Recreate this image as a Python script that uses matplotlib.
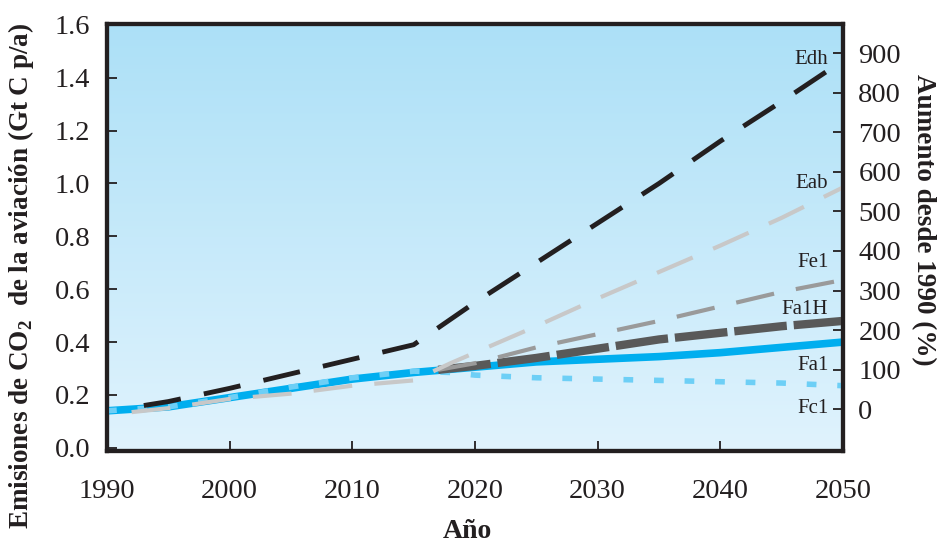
import numpy as np
import matplotlib
matplotlib.use("Agg")
import matplotlib.pyplot as plt
from matplotlib.colors import LinearSegmentedColormap

plt.rcParams['font.family'] = ['Liberation Serif', 'DejaVu Serif']
plt.rcParams['mathtext.fontset'] = 'custom'
plt.rcParams['mathtext.rm'] = 'Liberation Serif'
plt.rcParams['mathtext.bf'] = 'Liberation Serif:bold'
plt.rcParams['lines.scale_dashes'] = False

# data (Gt C per year)
years_edh = [1993, 1995, 2000, 2005, 2010, 2015, 2020, 2025, 2030, 2035, 2040, 2045, 2050]
edh = [0.16, 0.175, 0.225, 0.28, 0.335, 0.39, 0.55, 0.70, 0.85, 1.00, 1.16, 1.31, 1.465]

years_eab = [1992, 1995, 2000, 2005, 2010, 2015, 2018, 2020, 2025, 2030, 2035, 2040, 2045, 2050]
eab = [0.135, 0.15, 0.185, 0.205, 0.235, 0.255, 0.32, 0.36, 0.46, 0.565, 0.665, 0.765, 0.87, 0.985]

years_fe1 = [2017, 2020, 2025, 2030, 2035, 2040, 2045, 2050]
fe1 = [0.295, 0.32, 0.38, 0.43, 0.48, 0.535, 0.59, 0.635]

years_fa1h = [2017, 2020, 2025, 2030, 2035, 2040, 2045, 2050]
fa1h = [0.295, 0.31, 0.34, 0.375, 0.41, 0.435, 0.46, 0.48]

years_fa1 = [1990, 1995, 2000, 2005, 2010, 2015, 2020, 2025, 2030, 2035, 2040, 2045, 2050]
fa1 = [0.14, 0.155, 0.19, 0.225, 0.26, 0.285, 0.305, 0.325, 0.335, 0.345, 0.36, 0.38, 0.40]

years_fc1 = [1990, 1995, 2000, 2005, 2010, 2015, 2018, 2020, 2025, 2030, 2035, 2040, 2045, 2050]
fc1 = [0.14, 0.155, 0.19, 0.23, 0.265, 0.29, 0.285, 0.275, 0.265, 0.26, 0.255, 0.25, 0.245, 0.235]

# label name, y position (left axis units)
scen_names = ["Edh", "Eab", "Fe1", "Fa1H", "Fa1", "Fc1"]
scen_label_y = [1.47, 1.00, 0.70, 0.525, 0.31, 0.15]

x_ticks = [1990, 2000, 2010, 2020, 2030, 2040, 2050]
left_ticks = [0.0, 0.2, 0.4, 0.6, 0.8, 1.0, 1.2, 1.4, 1.6]
right_ticks = [0, 100, 200, 300, 400, 500, 600, 700, 800, 900]

fig = plt.figure(figsize=(9.49, 5.47), dpi=100)
ax = fig.add_axes([0.1128, 0.176, 0.7755, 0.781])

# background gradient
bg = LinearSegmentedColormap.from_list("bg", ["#e0f3fd", "#ace0f7"])
grad = np.linspace(0, 1, 256).reshape(-1, 1)
ax.imshow(grad, cmap=bg, aspect="auto", origin="lower",
          extent=[1990, 2050, -0.011, 1.605], zorder=0)

ax.plot(years_fa1, fa1, color="#00aeef", lw=5.5, solid_capstyle="butt", zorder=2)
ax.plot(years_fc1, fc1, color="#6dcff6", lw=4, dashes=(7, 15), zorder=3)
ax.plot(years_fa1h, fa1h, color="#595959", lw=6, dashes=(38, 5), zorder=4)
ax.plot(years_fe1, fe1, color="#9a9a9a", lw=3, dashes=(28, 16), zorder=5)
ax.plot(years_eab, eab, color="#c8c8c8", lw=3, dashes=(28, 16), zorder=6)
ax.plot(years_edh, edh, color="#231f20", lw=3.5, dashes=(27, 17), zorder=7)

for name, yy in zip(scen_names, scen_label_y):
    ax.text(2048.8, yy, name, ha="right", va="center", fontsize=15, color="#231f20", zorder=8)

ax.set_xlim(1990, 2050)
ax.set_ylim(-0.011, 1.605)
ax.set_xticks(x_ticks)
ax.set_xticklabels([str(v) for v in x_ticks])
ax.set_yticks(left_ticks)
ax.set_yticklabels([f"{v:.1f}" for v in left_ticks])
ax.tick_params(axis="both", direction="in", length=7, width=1.3, color="#231f20",
               labelsize=20.5, labelcolor="#231f20")
ax.tick_params(axis="y", pad=12)
ax.tick_params(axis="x", pad=20)

ax2 = ax.twinx()
ax2.set_ylim(-105, 975)
ax2.set_yticks(right_ticks)
ax2.set_yticklabels([str(v) for v in right_ticks])
ax2.tick_params(axis="y", direction="in", length=7, width=1.3, color="#231f20",
                labelsize=20.5, labelcolor="#231f20", pad=11)

for a in (ax, ax2):
    for s in a.spines.values():
        s.set_linewidth(3)
        s.set_color("#231f20")

ax.set_ylabel(r"Emisiones de CO$_\mathbf{2}$  de la aviación (Gt C p/a)", fontsize=19.5,
              fontweight="bold", color="#231f20")
ax2.set_ylabel("Aumento desde 1990 (%)", fontsize=19.5, fontweight="bold",
               color="#231f20", rotation=270)
ax.set_xlabel("Año", fontsize=20, fontweight="bold", color="#231f20")
ax.yaxis.set_label_coords(-0.097, 0.41)
ax2.yaxis.set_label_coords(1.126, 0.54)
ax.xaxis.set_label_coords(0.49, -0.16)

fig.savefig("out.png", dpi=100)
